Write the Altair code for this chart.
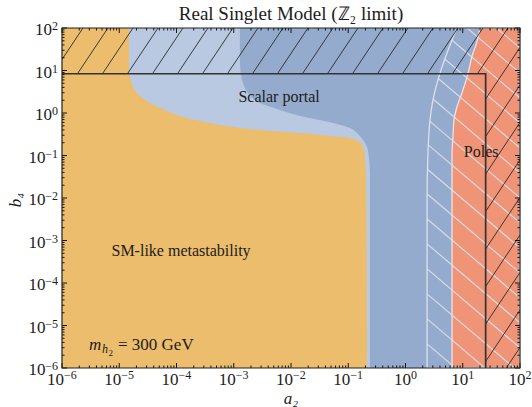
import altair as alt
import numpy as np
import pandas as pd

# ---- region boundaries in the (a2, b4) plane, listed from b4 = 100 downwards ----
# SM-like metastability (orange): a2 from the left edge up to this curve
metastab_a2 = [1.48e-5, 1.48e-5, 1.60e-5, 1.74e-5, 2.30e-5, 3.44e-5, 6.3e-5, 1.30e-4,
               3.85e-4, 9.7e-4, 4.3e-3, 0.0144, 0.048, 0.107, 0.148, 0.181, 0.196, 0.204, 0.213]
metastab_b4 = [100, 8.7, 5.97, 4.09, 2.51, 1.72, 1.18, 0.805,
               0.582, 0.469, 0.377, 0.338, 0.288, 0.258, 0.219, 0.158, 0.092, 0.046, 1e-6]

# Scalar portal (light blue): a2 from the left edge up to this curve
portal_a2 = [1.28e-3, 1.28e-3, 1.34e-3, 1.45e-3, 1.77e-3, 2.88e-3, 6.4e-3, 0.0144,
             0.054, 0.107, 0.142, 0.181, 0.213, 0.230, 0.240, 0.240]
portal_b4 = [100, 17.7, 7.8, 5.08, 2.96, 1.72, 1.18, 0.85,
             0.582, 0.444, 0.338, 0.232, 0.158, 0.087, 0.035, 1e-6]

# Landau poles (red): from this curve to the right edge
poles_a2 = [20.0, 17.0, 15.1, 12.4, 9.7, 7.9, 7.03, 6.76, 6.49, 6.49]
poles_b4 = [100, 39.8, 25.8, 8.7, 2.96, 1.38, 0.684, 0.303, 0.103, 1e-6]

# light hatched exclusion: from this curve to the right edge
excl_a2 = [7.94, 6.49, 5.31, 4.01, 3.02, 2.68, 2.47, 2.38, 2.38]
excl_b4 = [100, 52, 25.8, 8.7, 2.02, 0.684, 0.115, 0.009, 1e-6]

# perturbative unitarity: a2 < 8 pi, b4 < 8 pi / 3
a2_unitarity = 25.13
b4_unitarity = 8.38

tick_exponents = [-6, -5, -4, -3, -2, -1, 0, 1, 2]

W, H = 458, 340
LO, HI = -6.0, 2.0
SERIF = "Liberation Serif"
ORANGE = "#EBBD6C"
LIGHT_BLUE = "#B9C9E1"
DARK_BLUE = "#95ABCE"
RED = "#F09478"
HATCH_LIGHT = "#DCE1EA"
INK = "#1c1c1c"

xs = alt.Scale(type="log", domain=[1e-6, 1e2], nice=False)
ys = alt.Scale(type="log", domain=[1e-6, 1e2], nice=False)


def X(field, **kw):
    return alt.X(field, type="quantitative", scale=xs, axis=None, **kw)


def Y(field, **kw):
    return alt.Y(field, type="quantitative", scale=ys, axis=None, **kw)


def band(lo, hi, b4, color, **kw):
    # filled strip between two a2 curves, traced along b4
    df = pd.DataFrame({"b4": b4, "lo": lo, "hi": hi})
    return alt.Chart(df).mark_area(orient="horizontal", interpolate="monotone",
                                   color=color, clip=True, **kw).encode(
        y=Y("b4"), x=X("lo", stack=None), x2="hi:Q")


# ---- hatching: straight lines in screen space, clipped to a region ----
def u_of(a):
    return (np.log10(a) - LO) / (HI - LO) * W


def v_of(b):
    return (np.log10(b) - LO) / (HI - LO) * H


def a_of(u):
    return 10 ** (LO + u / W * (HI - LO))


def b_of(v):
    return 10 ** (LO + v / H * (HI - LO))


def hatch(inside, slope, step, phase):
    u = np.linspace(0, W, 4000)
    segs = []
    for c in np.arange(-3 * W + phase, 3 * W, step):
        v = slope * (u - c)
        ok = (v >= 0) & (v <= H) & inside(u, v)
        if ok.sum() > 1:
            i = np.flatnonzero(ok)
            segs.append((a_of(u[i[0]]), b_of(v[i[0]]), a_of(u[i[-1]]), b_of(v[i[-1]])))
    return pd.DataFrame(segs, columns=["xa", "ya", "xb", "yb"])


ev = v_of(np.array(excl_b4))[::-1]
eu = u_of(np.array(excl_a2))[::-1]
light_hatch = hatch(lambda u, v: u >= np.interp(v, ev, eu), -0.85, 29.4, 3.5)

vb, ub = v_of(b4_unitarity), u_of(a2_unitarity)
dark_hatch = hatch(lambda u, v: (v >= vb) | (u >= ub), 1.5, 25.0, 18.3)


def segments(df, color, width, opacity=1.0):
    return alt.Chart(df).mark_rule(color=color, strokeWidth=width, opacity=opacity,
                                   clip=True).encode(
        x=X("xa"), y=Y("ya"), x2="xb:Q", y2="yb:Q")


layers = []
layers.append(band([1e-6] * len(portal_b4), portal_a2, portal_b4, LIGHT_BLUE))
layers.append(band([1e-6] * len(metastab_b4), metastab_a2, metastab_b4, ORANGE))
layers.append(band(poles_a2, [1e2] * len(poles_b4), poles_b4, RED,
                   stroke="#EDE3E2", strokeWidth=1.3))
layers.append(segments(light_hatch, HATCH_LIGHT, 1.2, 0.9))
layers.append(band(excl_a2, [1e2] * len(excl_b4), excl_b4, HATCH_LIGHT,
                   fillOpacity=0, stroke=HATCH_LIGHT, strokeWidth=1.3))
layers.append(segments(dark_hatch, "#222222", 1.0, 0.85))

outline = pd.DataFrame({"a2": [1e-6, a2_unitarity, a2_unitarity],
                        "b4": [b4_unitarity, b4_unitarity, 1e-6], "i": [0, 1, 2]})
layers.append(alt.Chart(outline).mark_line(color="#333333", strokeWidth=1.7, clip=True).encode(
    x=X("a2"), y=Y("b4"), order="i:Q"))

# ---- region labels ----
labels = pd.DataFrame({
    "a2": [6.2e-3, 1.2e-4, 21.0],
    "b4": [2.4, 5.6e-4, 0.12],
    "text": ["Scalar portal", "SM-like metastability", "Poles"],
})
layers.append(alt.Chart(labels).mark_text(font=SERIF, fontSize=16, color=INK,
                                          align="center", baseline="middle").encode(
    x=X("a2"), y=Y("b4"), text="text:N"))

mass = pd.DataFrame({"a2": [2.96e-6], "b4": [2.65e-6]})
mass_parts = [("m", 17, "italic", 0, 0), ("h", 12, "italic", 13, 3),
              ("2", 9, "normal", 19.5, 6), ("= 300 GeV", 17, "normal", 29, 0)]
for txt, size, style, dx, dy in mass_parts:
    layers.append(alt.Chart(mass).mark_text(text=txt, font=SERIF, fontSize=size, fontStyle=style,
                                            color=INK, align="left", baseline="alphabetic",
                                            dx=dx, dy=dy).encode(x=X("a2"), y=Y("b4")))

# ---- inward ticks on all four sides ----
major = [10.0 ** k for k in tick_exponents]
minor = [m * 10.0 ** k for k in tick_exponents[:-1] for m in range(2, 10)]
for vals, ln in ((major, 5), (minor, 2.5)):
    tdf = pd.DataFrame({"v": vals})
    base = alt.Chart(tdf).mark_rule(color="black", strokeWidth=0.9)
    layers.append(base.encode(x=X("v"), y=alt.value(H), y2=alt.value(H - ln)))
    layers.append(base.encode(x=X("v"), y=alt.value(0), y2=alt.value(ln)))
    layers.append(base.encode(y=Y("v"), x=alt.value(0), x2=alt.value(ln)))
    layers.append(base.encode(y=Y("v"), x=alt.value(W), x2=alt.value(W - ln)))

# frame
layers.append(alt.Chart(pd.DataFrame({"k": [0]})).mark_rect(
    fillOpacity=0, stroke="#222222", strokeWidth=1.2).encode(
    x=alt.value(0), x2=alt.value(W), y=alt.value(0), y2=alt.value(H)))

# ---- tick labels: "10" with a raised exponent ----
tl = pd.DataFrame({"v": major,
                   "exp": [str(k).replace("-", "\u2212") for k in tick_exponents],
                   "neg": [k < 0 for k in tick_exponents]})
for neg, shift_x, end_y in ((True, 2, 12.5), (False, 5.5, 6)):
    part = tl[tl["neg"] == neg]
    tb = alt.Chart(part)
    # x axis
    layers.append(tb.mark_text(text="10", font=SERIF, fontSize=17, color=INK, align="right",
                               baseline="alphabetic", dx=shift_x).encode(
        x=X("v"), y=alt.value(H + 17)))
    layers.append(tb.mark_text(font=SERIF, fontSize=12, color=INK, align="left",
                               baseline="alphabetic", dx=shift_x).encode(
        x=X("v"), y=alt.value(H + 11), text="exp:N"))
    # y axis
    layers.append(tb.mark_text(text="10", font=SERIF, fontSize=17, color=INK, align="right",
                               baseline="alphabetic", dy=7).encode(
        y=Y("v"), x=alt.value(-4 - end_y)))
    layers.append(tb.mark_text(font=SERIF, fontSize=12, color=INK, align="right",
                               baseline="alphabetic", dy=2).encode(
        y=Y("v"), x=alt.value(-4), text="exp:N"))

# ---- axis titles and chart title ----
one = pd.DataFrame({"k": [0]})
layers.append(alt.Chart(one).mark_text(text="a\u2082", font=SERIF, fontSize=17, fontStyle="italic",
                                       color=INK, align="center", baseline="alphabetic").encode(
    x=alt.value(W / 2), y=alt.value(H + 36)))
layers.append(alt.Chart(one).mark_text(text="b\u2084", font=SERIF, fontSize=17, fontStyle="italic",
                                       color=INK, align="center", baseline="middle", angle=270).encode(
    x=alt.value(-46), y=alt.value(172)))
layers.append(alt.Chart(one).mark_text(text="Real Singlet Model (\u2124\u2082 limit)", font=SERIF,
                                       fontSize=19, color=INK, align="center",
                                       baseline="alphabetic").encode(
    x=alt.value(W / 2), y=alt.value(-8)))

chart = alt.layer(*layers).properties(
    width=W, height=H,
    padding={"left": 62, "top": 28, "right": 12, "bottom": 39},
    autosize=alt.AutoSizeParams(type="none"),
    background="white",
).configure_view(fill=DARK_BLUE, stroke=None)

chart.save("out.html", embed_options={"renderer": "svg", "actions": False})
